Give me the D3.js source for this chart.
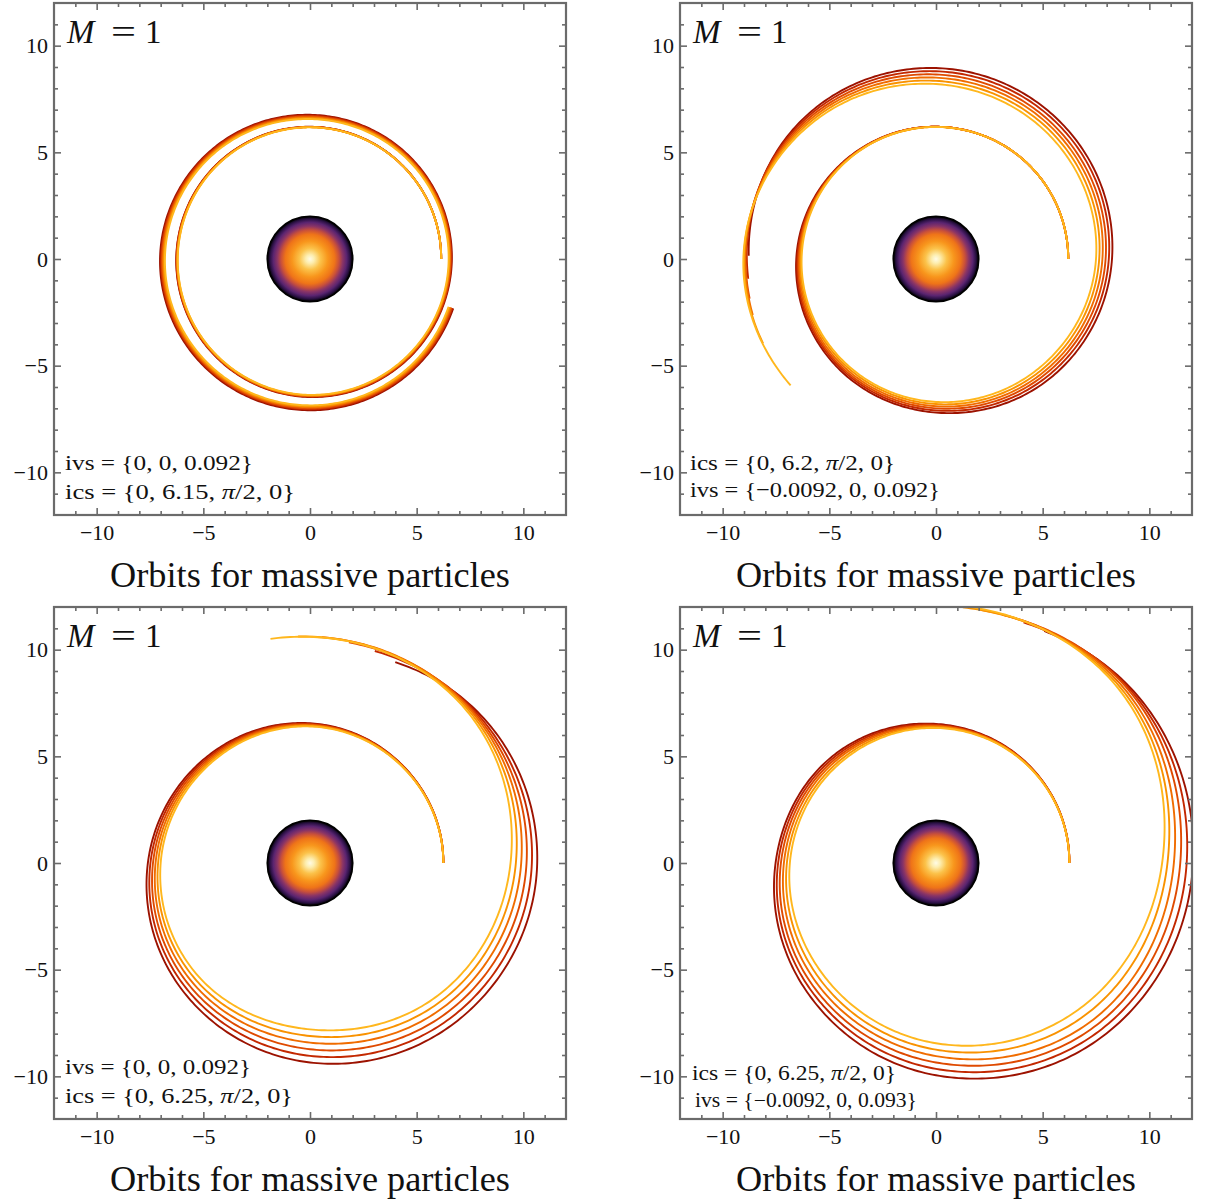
<!DOCTYPE html>
<html>
<head>
<meta charset="utf-8">
<script src="https://cdn.jsdelivr.net/npm/d3@7"></script>
<style>
  body { margin: 0; background: #fff; }
  svg { display: block; }
  text { font-family: "Liberation Serif", "DejaVu Serif", serif; fill: #111; }
</style>
</head>
<body>
<script>
// ---- data -------------------------------------------------------------
// Axis ticks (both axes share the same range)
const axisDomain = [-12, 12];
const majorTicks = [-10, -5, 0, 5, 10];
const majorTickLabels = ["\u221210", "\u22125", "0", "5", "10"];
const horizonRadius = 2;          // 2M with M = 1

// Orbit radii sampled every 45° of azimuth (counter-clockwise from +x),
// plus the final [azimuth°, r] point where each trajectory stops.
// Six trajectories per panel, dark red first, yellow last.
const orbitsA = [
  [6.15, 6.17, 6.20, 6.23, 6.27, 6.36, 6.47, 6.56, 6.65, 6.70, 6.76, 6.90, 7.03, 7.07, 7.09, 7.10],
  [6.15, 6.17, 6.19, 6.22, 6.26, 6.34, 6.45, 6.54, 6.62, 6.67, 6.72, 6.86, 6.98, 7.02, 7.04, 7.05],
  [6.15, 6.16, 6.19, 6.21, 6.24, 6.33, 6.43, 6.51, 6.59, 6.63, 6.68, 6.81, 6.94, 6.98, 7.00, 7.01],
  [6.15, 6.16, 6.18, 6.20, 6.23, 6.31, 6.41, 6.48, 6.56, 6.60, 6.64, 6.77, 6.89, 6.93, 6.95, 6.96],
  [6.15, 6.16, 6.18, 6.19, 6.21, 6.29, 6.39, 6.46, 6.53, 6.56, 6.60, 6.73, 6.85, 6.89, 6.91, 6.92],
  [6.15, 6.16, 6.17, 6.18, 6.20, 6.28, 6.37, 6.44, 6.50, 6.53, 6.56, 6.69, 6.80, 6.84, 6.86, 6.87]
];
const endsA = [[701, 7.10], [701, 7.05], [701, 7.01], [701, 6.96], [701, 6.92], [701, 6.87]];

const orbitsB = [
  [6.20, 6.20, 6.20, 6.30, 6.55, 6.85, 7.20, 7.75, 8.25, 8.65, 8.95, 9.05],
  [6.20, 6.20, 6.20, 6.28, 6.50, 6.77, 7.10, 7.60, 8.10, 8.50, 8.80, 8.98],
  [6.20, 6.20, 6.20, 6.26, 6.45, 6.70, 7.00, 7.46, 7.95, 8.33, 8.65, 8.90],
  [6.20, 6.20, 6.20, 6.25, 6.40, 6.62, 6.90, 7.33, 7.80, 8.18, 8.50, 8.82],
  [6.20, 6.20, 6.19, 6.23, 6.35, 6.53, 6.80, 7.19, 7.65, 8.02, 8.35, 8.74, 9.00],
  [6.20, 6.20, 6.19, 6.22, 6.30, 6.45, 6.70, 7.05, 7.50, 7.85, 8.20, 8.65, 9.03]
];
const endsB = [[539, 8.78], [546, 8.85], [552, 8.93], [557, 8.98], [566, 9.02], [581, 9.03]];

const orbitsC = [
  [6.25, 6.30, 6.55, 6.95, 7.60, 8.45, 9.35, 10.15, 10.65, 10.55],
  [6.25, 6.29, 6.52, 6.88, 7.48, 8.25, 9.04, 9.85, 10.40, 10.50],
  [6.25, 6.28, 6.49, 6.81, 7.36, 8.05, 8.73, 9.55, 10.15, 10.45],
  [6.25, 6.27, 6.46, 6.74, 7.24, 7.85, 8.42, 9.25, 9.90, 10.40],
  [6.25, 6.26, 6.43, 6.67, 7.12, 7.65, 8.11, 8.95, 9.65, 10.33],
  [6.25, 6.25, 6.40, 6.60, 7.00, 7.45, 7.80, 8.65, 9.40, 10.25]
];
const endsC = [[427, 10.23], [433, 10.39], [440, 10.50], [447, 10.60], [453, 10.63], [460, 10.67]];

const orbitsD = [
  [6.25, 6.32, 6.52, 6.98, 7.52, 8.55, 9.95, 11.30, 12.05, 12.25],
  [6.25, 6.31, 6.48, 6.89, 7.40, 8.35, 9.65, 11.00, 11.75, 12.20],
  [6.25, 6.30, 6.44, 6.80, 7.27, 8.15, 9.35, 10.70, 11.45, 12.15],
  [6.25, 6.29, 6.41, 6.71, 7.13, 7.93, 9.05, 10.40, 11.15, 12.05],
  [6.25, 6.28, 6.37, 6.60, 6.99, 7.70, 8.75, 10.00, 10.85, 11.95],
  [6.25, 6.27, 6.33, 6.50, 6.85, 7.45, 8.45, 9.60, 10.60, 11.85]
];
const endsD = [[425, 12.00], [430, 12.00], [435, 12.05], [440, 12.05], [444, 12.05], [452, 12.15]];

// Initial conditions printed in each panel
const notesA = ["ivs = {0, 0, 0.092}", "ics = {0, 6.15, \u03c0/2, 0}"];
const notesB = ["ics = {0, 6.2, \u03c0/2, 0}", "ivs = {\u22120.0092, 0, 0.092}"];
const notesC = ["ivs = {0, 0, 0.092}", "ics = {0, 6.25, \u03c0/2, 0}"];
const notesD = ["ics = {0, 6.25, \u03c0/2, 0}", "ivs = {\u22120.0092, 0, 0.093}"];

const panelTitle = "Orbits for massive particles";
const massLabel = ["M", "=", "1"];

// ---- styling / layout -----------------------------------------------
const orbitColors = ["#9c1200", "#c32800", "#df4a00", "#f06c00", "#f99200", "#ffb71d"];
const panelSize = 512;
const panels = [
  { x: 54,  y: 3,   orbits: orbitsA, ends: endsA, notes: notesA, noteX: [11, 11], noteY: [467, 496], noteSize: 22, noteW: [188, 230] },
  { x: 680, y: 3,   orbits: orbitsB, ends: endsB, notes: notesB, noteX: [10, 10], noteY: [467, 494], noteSize: 22, noteW: [205, 250] },
  { x: 54,  y: 607, orbits: orbitsC, ends: endsC, notes: notesC, noteX: [11, 11], noteY: [467, 496], noteSize: 22, noteW: [186, 228] },
  { x: 680, y: 607, orbits: orbitsD, ends: endsD, notes: notesD, noteX: [12, 15], noteY: [473, 500], noteSize: 20.5, noteW: [204, 222] }
];

const svg = d3.select("body").append("svg")
  .attr("width", 1208).attr("height", 1202);

// Radial gradient for the black hole disc (bright core fading to black rim)
const defs = svg.append("defs");
const grad = defs.append("radialGradient").attr("id", "holeFill")
  .attr("cx", "50%").attr("cy", "50%").attr("r", "50%");
[
  [0, "#fffbe6"], [0.1, "#fdeeb0"], [0.25, "#fbc24a"], [0.42, "#f8961c"],
  [0.58, "#ef7418"], [0.68, "#c9503a"], [0.77, "#8a3466"], [0.86, "#5a2470"],
  [0.93, "#2e1248"], [0.98, "#0c0514"], [1, "#000"]
].forEach(([o, c]) => grad.append("stop").attr("offset", o).attr("stop-color", c));

// Curve factory that joins the projected samples smoothly in polar
// coordinates about (cx, cy), so each orbit bends as a spiral, not as chords.
function polarSpiral(cx, cy) {
  return function (context) {
    let pts = [];
    return {
      areaStart() {}, areaEnd() {},
      lineStart() { pts = []; },
      point(x, y) { pts.push([+x, +y]); },
      lineEnd() {
        let prev = null;
        const P = pts.map(([x, y]) => {
          let a = Math.atan2(-(y - cy), x - cx);
          if (prev !== null) {
            while (a - prev > Math.PI) a -= 2 * Math.PI;
            while (a - prev < -Math.PI) a += 2 * Math.PI;
          }
          prev = a;
          return [a, Math.hypot(x - cx, y - cy)];
        });
        const n = P.length;
        if (!n) return;
        const h = [], d = [];
        for (let i = 0; i < n - 1; i++) {
          h.push(P[i + 1][0] - P[i][0]);
          d.push((P[i + 1][1] - P[i][1]) / h[i]);
        }
        const m = P.map((_, i) => {
          if (n < 2) return 0;
          if (i === 0) return d[0];
          if (i === n - 1) return d[n - 2];
          return (h[i] * d[i - 1] + h[i - 1] * d[i]) / (h[i - 1] + h[i]);
        });
        const put = (a, r, first) => {
          const px = cx + r * Math.cos(a), py = cy - r * Math.sin(a);
          first ? context.moveTo(px, py) : context.lineTo(px, py);
        };
        put(P[0][0], P[0][1], true);
        for (let i = 0; i < n - 1; i++) {
          const steps = Math.max(2, Math.ceil(Math.abs(h[i]) / (Math.PI / 180)));
          for (let s = 1; s <= steps; s++) {
            const t = s / steps, t2 = t * t, t3 = t2 * t;
            const r = (2 * t3 - 3 * t2 + 1) * P[i][1] + (t3 - 2 * t2 + t) * h[i] * m[i]
                    + (-2 * t3 + 3 * t2) * P[i + 1][1] + (t3 - t2) * h[i] * m[i + 1];
            put(P[i][0] + t * h[i], r, false);
          }
        }
      }
    };
  };
}

function writeNote(sel, str) {
  // π is set in italics, as in math mode
  const parts = str.split("\u03c0");
  parts.forEach((p, i) => {
    if (i > 0) sel.append("tspan").attr("font-style", "italic").text("\u03c0");
    if (p) sel.append("tspan").text(p);
  });
}

panels.forEach((p, k) => {
  const g = svg.append("g").attr("transform", `translate(${p.x},${p.y})`);
  const x = d3.scaleLinear().domain(axisDomain).range([0, panelSize]);
  const y = d3.scaleLinear().domain(axisDomain).range([panelSize, 0]);

  defs.append("clipPath").attr("id", "clip" + k)
    .append("rect").attr("x", 0).attr("y", 0).attr("width", panelSize).attr("height", panelSize);

  const plot = g.append("g").attr("clip-path", `url(#clip${k})`);

  // black hole
  plot.append("circle")
    .attr("cx", x(0)).attr("cy", y(0))
    .attr("r", x(horizonRadius) - x(0))
    .attr("fill", "url(#holeFill)")
    .attr("stroke", "#000").attr("stroke-width", 1.8);

  // trajectories
  const rad = Math.PI / 180;
  const line = d3.line()
    .x(d => x(d[1] * Math.cos(d[0] * rad)))
    .y(d => y(d[1] * Math.sin(d[0] * rad)))
    .curve(polarSpiral(x(0), y(0)));

  p.orbits.forEach((radii, i) => {
    const pts = radii.map((r, j) => [j * 45, r]);
    pts.push(p.ends[i]);
    plot.append("path")
      .attr("d", line(pts))
      .attr("fill", "none")
      .attr("stroke", orbitColors[i])
      .attr("stroke-width", 1.9);
  });

  // axes: ticks pointing inward on all four sides
  const minor = d3.range(-11, 12).filter(v => v % 5 !== 0);
  const axes = [
    [d3.axisBottom(x), `translate(0,${panelSize})`, true, 9],
    [d3.axisLeft(y), null, true, 6],
    [d3.axisTop(x), null, false, 0],
    [d3.axisRight(y), `translate(${panelSize},0)`, false, 0]
  ];
  axes.forEach(([ax, tr, labelled, pad]) => {
    const gm = g.append("g");
    if (tr) gm.attr("transform", tr);
    gm.call(ax.tickValues(minor).tickSize(-4).tickFormat(""));
    const gM = g.append("g");
    if (tr) gM.attr("transform", tr);
    gM.call(ax.tickValues(majorTicks).tickSize(-7).tickPadding(pad)
      .tickFormat(labelled ? ((d, i) => majorTickLabels[i]) : ""));
    [gm, gM].forEach(s => {
      s.attr("color", "#6b6b6b");
      s.select(".domain").remove();
      s.selectAll("line").attr("stroke-width", 1.6);
    });
    gM.selectAll("text")
      .attr("font-family", '"Liberation Serif", "DejaVu Serif", serif')
      .attr("font-size", 22).attr("fill", "#111");
  });

  // frame
  g.append("rect")
    .attr("x", 0).attr("y", 0).attr("width", panelSize).attr("height", panelSize)
    .attr("fill", "none").attr("stroke", "#6b6b6b").attr("stroke-width", 2.2);

  // M = 1
  const m = g.append("text").attr("y", 40).attr("font-size", 33);
  m.append("tspan").attr("x", 13).attr("font-style", "italic").text(massLabel[0]);
  m.append("tspan").attr("x", 57).attr("textLength", 25).attr("lengthAdjust", "spacingAndGlyphs").text(massLabel[1]);
  m.append("tspan").attr("x", 91).text(massLabel[2]);

  // initial conditions
  p.notes.forEach((str, i) => {
    const t = g.append("text")
      .attr("x", p.noteX[i]).attr("y", p.noteY[i])
      .attr("font-size", p.noteSize)
      .attr("textLength", p.noteW[i])
      .attr("lengthAdjust", "spacingAndGlyphs");
    writeNote(t, str);
  });

  // caption under the panel
  const title = g.append("text")
    .attr("x", panelSize / 2).attr("y", 584)
    .attr("text-anchor", "middle")
    .attr("font-size", 31)
    .text(panelTitle);
  const w = title.node().getComputedTextLength();
  title.attr("font-size", 31 * 400 / w);
});
</script>
</body>
</html>
